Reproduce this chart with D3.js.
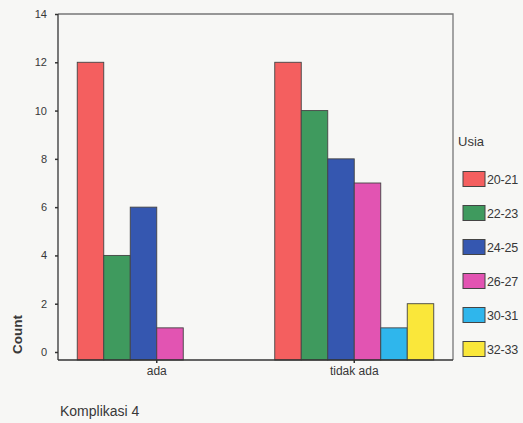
<!DOCTYPE html>
<html><head><meta charset="utf-8">
<script src="https://cdn.jsdelivr.net/npm/d3@7"></script>
<style>body{margin:0;background:#f7f7f5;}svg{display:block;}</style>
</head><body>
<script>
const categories = ["ada", "tidak ada"];
const groups = ["20-21", "22-23", "24-25", "26-27", "30-31", "32-33"];
const valuesAda = [12, 4, 6, 1, null, null];
const valuesTidakAda = [12, 10, 8, 7, 1, 2];
const colors = ["#f45f5f", "#3f9a5e", "#3557b0", "#e254b2", "#2fb6ec", "#fae73a"];
const yTicks = [0, 2, 4, 6, 8, 10, 12, 14];
const seriesByCat = [valuesAda, valuesTidakAda];

(function () {
const W = 523, H = 423;
const svg = d3.select("body").append("svg").attr("width", W).attr("height", H);
svg.append("rect").attr("width", W).attr("height", H).attr("fill", "#f7f7f5");

const pLeft = 58, pRight = 453, pTop = 14, base = 360;
const x = d3.scaleBand().domain(categories).range([pLeft, pRight]).padding(0);
const y = d3.scaleLinear().domain([0, 14]).range([352, pTop]);
const inner = d3.scaleBand().domain(groups).range([0, 159]);

const font = "Liberation Sans, Arial, sans-serif";
const txt = "#383838";

// frame
svg.append("path").attr("d", `M${pLeft},${pTop}H${pRight}V${base}`).attr("fill", "none").attr("stroke", "#777").attr("stroke-width", 1.3);

// bars
categories.forEach((c, ci) => {
  const cx = x(c) + x.bandwidth() / 2;
  const g = svg.append("g").attr("transform", `translate(${cx - 79.5},0)`);
  groups.forEach((gr, gi) => {
    const v = seriesByCat[ci][gi];
    if (v == null) return;
    g.append("rect")
      .attr("x", inner(gr)).attr("width", inner.bandwidth())
      .attr("y", y(v)).attr("height", base - y(v))
      .attr("fill", colors[gi]).attr("stroke", "#444").attr("stroke-width", 0.9);
  });
});

// y axis
const ya = svg.append("g").attr("transform", `translate(${pLeft},0)`)
  .call(d3.axisLeft(y).tickValues(yTicks).tickSize(3).tickPadding(8));
ya.select(".domain").remove();
svg.append("line").attr("x1", pLeft).attr("x2", pLeft).attr("y1", pTop).attr("y2", base).attr("stroke", "#333").attr("stroke-width", 1.3);
ya.selectAll("text").attr("font-family", font).attr("font-size", 11).attr("fill", txt);
ya.selectAll("line").attr("stroke", "#333").attr("stroke-width", 1.5);

// x axis
const xa = svg.append("g").attr("transform", `translate(0,${base})`)
  .call(d3.axisBottom(x).tickSize(3).tickPadding(3));
xa.select(".domain").remove();
svg.append("line").attr("x1", pLeft).attr("x2", pRight).attr("y1", base).attr("y2", base).attr("stroke", "#333").attr("stroke-width", 1.3);
xa.selectAll("text").attr("font-family", font).attr("font-size", 12).attr("fill", txt);
xa.selectAll("line").attr("stroke", "#333").attr("stroke-width", 1.5);

// axis titles
svg.append("text").attr("transform", "translate(22,354) rotate(-90)")
  .attr("font-family", font).attr("font-size", 13.5).attr("font-weight", "bold").attr("fill", txt).text("Count");
svg.append("text").attr("x", 60).attr("y", 416)
  .attr("font-family", font).attr("font-size", 14).attr("fill", txt).text("Komplikasi 4");

// legend
svg.append("text").attr("x", 458).attr("y", 146)
  .attr("font-family", font).attr("font-size", 13).attr("fill", txt).text("Usia");
groups.forEach((gr, gi) => {
  const cy = 179 + gi * 34;
  svg.append("rect").attr("x", 463).attr("y", cy - 7.5).attr("width", 22).attr("height", 15)
    .attr("fill", colors[gi]).attr("stroke", "#444").attr("stroke-width", 1);
  svg.append("text").attr("x", 487).attr("y", cy + 4.5)
    .attr("font-family", font).attr("font-size", 12.5).attr("letter-spacing", -0.2).attr("fill", txt).text(gr);
});
})();
</script>
</body></html>
